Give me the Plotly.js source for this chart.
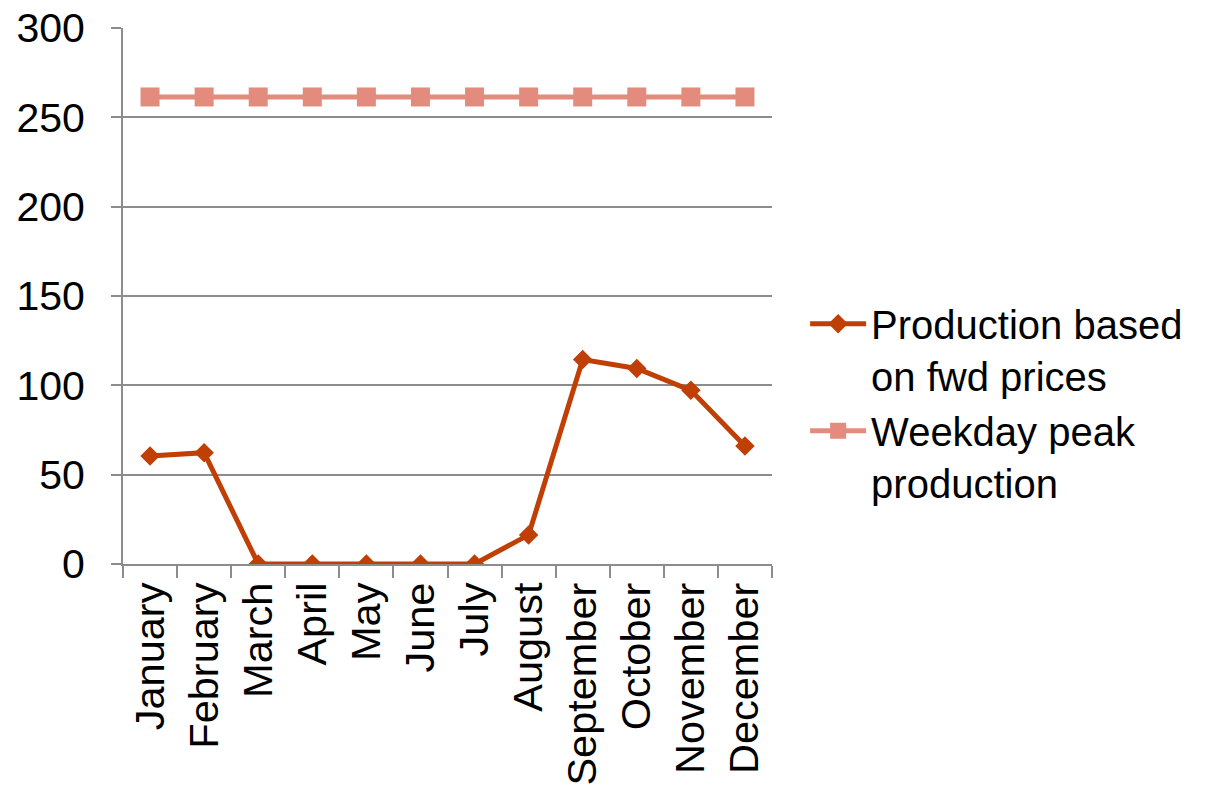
<!DOCTYPE html>
<html>
<head>
<meta charset="utf-8">
<script src="https://cdn.plot.ly/plotly-3.0.1.min.js"></script>
<style>html,body{margin:0;padding:0;background:#fff;}#chart{width:1208px;height:798px;}</style>
</head>
<body>
<div id="chart"></div>
<script>
const months = ["January","February","March","April","May","June","July","August","September","October","November","December"];
const productionFwd = [60.5, 62.3, 0, 0, 0, 0, 0, 16.3, 114.4, 109.4, 97.2, 66.1];
const weekdayPeak = [261.4, 261.4, 261.4, 261.4, 261.4, 261.4, 261.4, 261.4, 261.4, 261.4, 261.4, 261.4];
const seriesNames = ["Production based<br>on fwd prices", "Weekday peak<br>production"];
const yTicks = [0, 50, 100, 150, 200, 250, 300];

const traces = [
  {x: months, y: productionFwd, name: seriesNames[0], type: "scatter", mode: "lines+markers",
   line: {color: "#C03F04", width: 5}, marker: {symbol: "diamond", size: 15, color: "#C03F04"}},
  {x: months, y: weekdayPeak, name: seriesNames[1], type: "scatter", mode: "lines+markers",
   line: {color: "#E38C7E", width: 5}, marker: {symbol: "square", size: 19, color: "#E38C7E"}}
];

const layout = {
  width: 1208, height: 798,
  margin: {l: 123, r: 436, t: 28, b: 234},
  paper_bgcolor: "#fff", plot_bgcolor: "#fff",
  font: {family: "Liberation Sans, Arial, sans-serif", size: 41.5, color: "#000"},
  showlegend: true,
  legend: {x: 1.051, xanchor: "left", y: 0.30, yanchor: "middle", valign: "top", itemwidth: 56,
           font: {size: 40}, bgcolor: "rgba(0,0,0,0)"},
  xaxis: {type: "category", range: [-0.5, 11.5], tickangle: -90, showgrid: false, showline: true,
          linecolor: "#8c8c8c", linewidth: 2,
          ticks: "outside", tickson: "boundaries", ticklen: 12, tickcolor: "#8c8c8c", tickwidth: 2,
          tickfont: {size: 41.5}, zeroline: false, fixedrange: true},
  yaxis: {range: [0, 300], tickvals: yTicks, showgrid: true, gridcolor: "#8c8c8c", gridwidth: 2,
          showline: true, linecolor: "#8c8c8c", linewidth: 2, ticks: "outside", ticklen: 10,
          tickcolor: "#8c8c8c", tickwidth: 2, zeroline: false, tickfont: {size: 41},
          ticklabelstandoff: 18, fixedrange: true}
};

Plotly.newPlot("chart", traces, layout, {displayModeBar: false, staticPlot: true});
</script>
</body>
</html>
